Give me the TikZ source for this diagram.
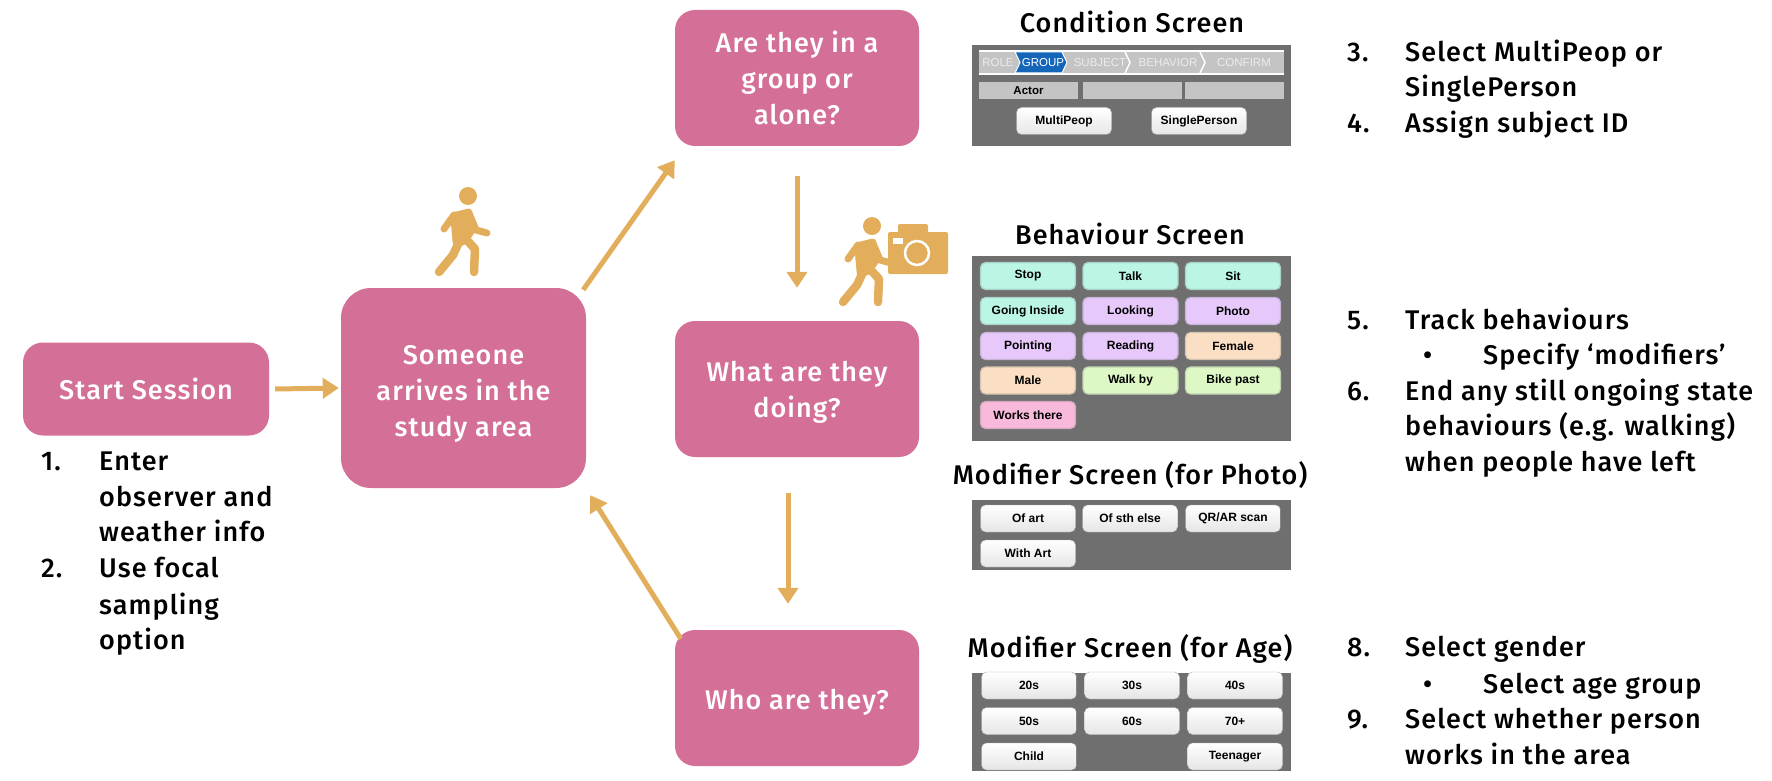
\documentclass[tikz,border=0pt]{standalone}
\usepackage{fontspec}
\setmainfont{Fira Sans Medium}[LetterSpace=4]
\newfontfamily\btnfont{Liberation Sans}
\usetikzlibrary{arrows.meta}
\definecolor{boxpink}{HTML}{D46F98}
\definecolor{flowgold}{HTML}{E2AE5C}
\definecolor{panelgrey}{HTML}{6F6F6F}
\definecolor{cellgrey}{HTML}{C4C4C4}
\definecolor{btngrey}{HTML}{ABABAB}
\definecolor{chevblue}{HTML}{1565B8}
\definecolor{mint}{HTML}{BAF5E6}
\definecolor{lilac}{HTML}{E6C9FA}
\definecolor{peach}{HTML}{FADFC4}
\definecolor{lime}{HTML}{DDF8C4}
\definecolor{rose}{HTML}{F8B9DA}
\tikzset{
  stepbox/.style={fill=boxpink, rounded corners=20pt, text=white, align=center, inner sep=0pt, font=\fontsize{27}{36}\selectfont},
  flow/.style={draw=flowgold, line width=5pt, -{Triangle[length=16pt,width=20pt]}},
  panel/.style={fill=panelgrey, inner sep=0pt},
  title/.style={font=\fontsize{27}{30}\selectfont},
  listtext/.style={anchor=base west, inner sep=0pt, font=\fontsize{27}{30}\selectfont},
  btn/.style={rounded corners=5pt, inner sep=0pt, minimum width=95pt, minimum height=27pt, font=\btnfont\bfseries\fontsize{12}{14}\selectfont},
  plainbtn/.style={btn, top color=white, bottom color=gray!20, draw=btngrey},
  limb/.style={draw=flowgold, line cap=round, line join=round},
  walker/.pic={
    \fill[flowgold] (0,0) circle (9pt);
    \fill[flowgold, rounded corners=3pt] (-18,17) -- (3,12) -- (10,32) -- (0,46) -- (-5,50) -- (-15,50) -- cycle;
    \draw[limb, line width=7pt] (-14,19) -- (-24,33);
    \draw[limb, line width=7pt] (3,22) -- (8,34) -- (19,37);
    \draw[limb, line width=8.5pt] (-9,46) -- (-15,59) -- (-29,76);
    \draw[limb, line width=8.5pt] (-3,42) -- (7,53) -- (6,76);
  }
}
\begin{document}
\begin{tikzpicture}[x=1pt, y=-1pt]
\useasboundingbox (0,0) rectangle (1772,781);

\node[stepbox, minimum width=246pt, minimum height=93pt] (start) at (146,389) {\rule{0pt}{22pt}Start Session};
\node[stepbox, rounded corners=30pt, minimum width=245pt, minimum height=200pt] (arrives) at (463.5,388) {\rule{0pt}{30pt}Someone\\arrives in the\\study area};
\node[stepbox, minimum width=244pt, minimum height=136pt] (group) at (797,78) {\rule{0pt}{22pt}Are they in a\\group or\\alone?};
\node[stepbox, minimum width=244pt, minimum height=136pt] (doing) at (797,389) {\rule{0pt}{27pt}What are they\\doing?};
\node[stepbox, minimum width=244pt, minimum height=136pt] (who) at (797,698) {\rule{0pt}{29pt}Who are they?};

\draw[flow] ([xshift=6pt]start.east) -- ([xshift=-2pt]arrives.west);
\draw[flow] ([xshift=-3pt,yshift=-2pt]arrives.north east) -- ([yshift=-14pt]group.south west);
\draw[flow] ([yshift=-30pt]group.south) -- ([yshift=33pt]doing.north);
\draw[flow] ([xshift=-9pt,yshift=-36pt]doing.south) -- ([xshift=-9pt,yshift=26pt]who.north);
\draw[flow] ([xshift=6pt,yshift=-9pt]who.north west) -- ([xshift=4pt,yshift=-7pt]arrives.south east);

\pic at (468,196) {walker};
\pic at (872,226) {walker};
\fill[flowgold, rounded corners=2pt] (888,232) rectangle (948,274);
\fill[flowgold, rounded corners=2pt] (898,224) rectangle (928,236);
\fill[white] (893,238) rectangle (903,244);
\draw[white, line width=2.5pt] (917,253) circle (12pt);

% condition screen
\node[title] (condtitle) at (1132,22) {Condition Screen};
\node[panel, minimum width=319pt, minimum height=101pt] (condpanel) at (1131.5,95.5) {};
\fill[white] (979,50) rectangle (1284,75);
\fill[cellgrey] (979,52) rectangle (1284,73);
\draw[white, line width=1.5pt] (1125,52) -- (1130,62.5) -- (1125,73);
\draw[white, line width=1.5pt] (1200,52) -- (1205,62.5) -- (1200,73);
\fill[chevblue, draw=white, line width=1pt] (1015,52) -- (1062,52) -- (1067,62.5) -- (1062,73) -- (1015,73) -- (1020,62.5) -- cycle;
\foreach \name/\cx/\lab/\col in {role/998/ROLE/gray!15, grp/1043/GROUP/white, subj/1100/SUBJECT/gray!15, beh/1168/BEHAVIOR/gray!15, conf/1244/CONFIRM/gray!15}
  \node[text=\col, inner sep=0pt, font=\btnfont\fontsize{11.5}{13}\selectfont] (\name) at (\cx,63) {\lab};
\foreach \name/\cx/\lab in {cella/1028.5/Actor, cellb/1132/{}, cellc/1234.5/{}}
  \node[fill=cellgrey, inner sep=0pt, minimum width=99pt, minimum height=17pt, font=\btnfont\bfseries\fontsize{11.5}{13}\selectfont] (\name) at (\cx,90.5) {\lab};
\foreach \name/\cx/\lab in {multi/1064/MultiPeop, single/1199/SinglePerson}
  \node[plainbtn] (\name) at (\cx,121) {\lab};

% behaviour screen
\node[title] (behtitle) at (1130,234) {Behaviour Screen};
\node[panel, minimum width=319pt, minimum height=185pt] (behpanel) at (1131.5,348.5) {};
\foreach \name/\cx/\cy/\lab/\col in {
  stop/1028/276/Stop/mint, talk/1130.5/276/Talk/mint, sit/1233/276/Sit/mint,
  inside/1028/311/Going Inside/mint, looking/1130.5/311/Looking/lilac, photo/1233/311/Photo/lilac,
  pointing/1028/346/Pointing/lilac, reading/1130.5/346/Reading/lilac, female/1233/346/Female/peach,
  male/1028/380.5/Male/peach, walk/1130.5/380.5/Walk by/lime, bike/1233/380.5/Bike past/lime,
  works/1028/415/Works there/rose}
  \node[btn, fill=\col, draw=\col!70!gray, line width=1.2pt] (\name) at (\cx,\cy) {\lab};

% modifier screens
\node[title] (phototitle) at (1130,475) {Modifier Screen (for Photo)};
\node[panel, minimum width=319pt, minimum height=70pt] (photopanel) at (1131.5,535) {};
\foreach \name/\cx/\cy/\lab in {ofart/1028/518.5/Of art, ofelse/1130/518.5/Of sth else, scan/1233/518.5/QR\slash AR scan, withart/1028/553.5/With Art}
  \node[plainbtn] (\name) at (\cx,\cy) {\lab};

\node[title] (agetitle) at (1130,649) {Modifier Screen (for Age)};
\node[panel, minimum width=319pt, minimum height=98pt] (agepanel) at (1131.5,722) {};
\foreach \name/\cx/\cy/\lab in {
  twenty/1029/685.5/20s, thirty/1132/685.5/30s, forty/1235/685.5/40s,
  fifty/1029/721/50s, sixty/1132/721/60s, seventy/1235/721/70+,
  child/1029/756.5/Child, teen/1235/756.5/Teenager}
  \node[plainbtn] (\name) at (\cx,\cy) {\lab};

% lists
\foreach \name/\cx/\cy/\lab in {
  na/41/470/1., la/99/470/Enter, lb/99/506/observer and, lc/99/541/weather info,
  nb/41/577/2., ld/99/577/Use focal, le/99/614/sampling, lf/99/649/option,
  nc/1347/62/3., lg/1405/62/Select MultiPeop or, lh/1405/97/SinglePerson,
  nd/1347/133/4., li/1405/133/Assign subject ID,
  ne/1347/329/5., lj/1405/329/Track behaviours, lk/1483/364/Specify ‘modifiers’,
  nf/1347/400/6., ll/1405/400/End any still ongoing state, lm/1405/435/behaviours (e.g. walking), ln/1405/471/when people have left,
  ng/1347/656/8., lo/1405/656/Select gender, lp/1483/693/Select age group,
  nh/1347/728/9., lq/1405/728/Select whether person, lr/1405/764/works in the area,
  bua/1423/364/•, bub/1423/693/•}
  \node[listtext] (\name) at (\cx,\cy) {\lab};
\end{tikzpicture}
\end{document}
